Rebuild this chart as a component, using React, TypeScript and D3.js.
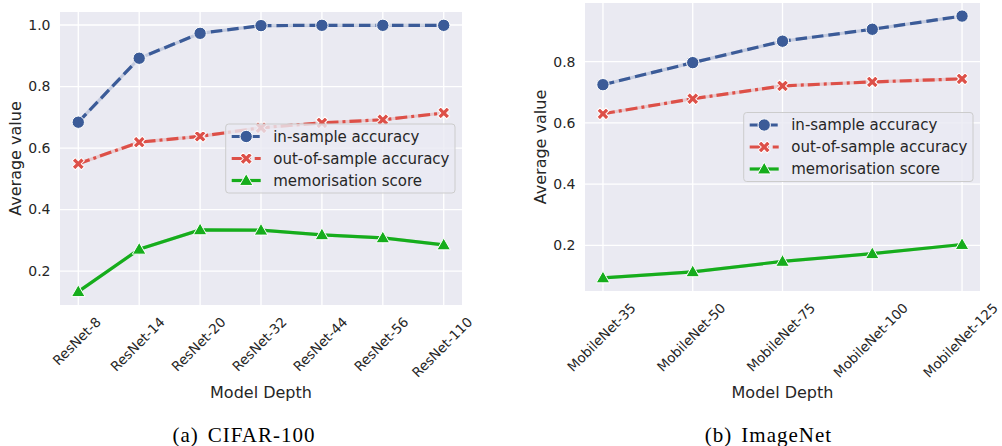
import React, { useRef, useEffect } from 'react';
import * as d3 from 'd3';

// CIFAR-100 panel
const cifarModels = ['ResNet-8', 'ResNet-14', 'ResNet-20', 'ResNet-32', 'ResNet-44', 'ResNet-56', 'ResNet-110'];
const cifarInSample = [0.684, 0.892, 0.973, 0.998, 0.999, 0.999, 0.999];
const cifarOutSample = [0.549, 0.619, 0.638, 0.666, 0.682, 0.692, 0.714];
const cifarMemorisation = [0.133, 0.271, 0.334, 0.333, 0.318, 0.308, 0.285];
const cifarYTicks = [0.2, 0.4, 0.6, 0.8, 1.0];

// ImageNet panel
const imagenetModels = ['MobileNet-35', 'MobileNet-50', 'MobileNet-75', 'MobileNet-100', 'MobileNet-125'];
const imagenetInSample = [0.725, 0.797, 0.867, 0.906, 0.949];
const imagenetOutSample = [0.63, 0.679, 0.721, 0.734, 0.744];
const imagenetMemorisation = [0.094, 0.114, 0.148, 0.173, 0.203];
const imagenetYTicks = [0.2, 0.4, 0.6, 0.8];

const seriesNames = ['in-sample accuracy', 'out-of-sample accuracy', 'memorisation score'];
const seriesColors = ['#3b5b98', '#dd5048', '#16ad1c'];
const seriesDashes = ['11.5,5', '12,4,3,4', null];

const BG = '#eaeaf2';
const TEXT = '#262626';
const FONT = '"DejaVu Sans", sans-serif';
const TICK_FS = 14;
const XTICK_FS = 13.5;
const LEGEND_FS = 15;
const LABEL_FS = 16;

const markerPath = (i: number) => {
  if (i === 0) return d3.symbol(d3.symbolCircle, 120)();
  if (i === 1) return d3.symbol(d3.symbolCross, 90)();
  return d3.symbol(d3.symbolTriangle, 80)();
};

function drawMarker(sel: any, i: number, cx: number, cy: number) {
  sel
    .append('path')
    .attr('d', markerPath(i))
    .attr('transform', `translate(${cx},${cy})${i === 1 ? ' rotate(45)' : i === 2 ? ' translate(0,1)' : ''}`)
    .attr('fill', seriesColors[i])
    .attr('stroke', 'white')
    .attr('stroke-width', 1);
}

function drawPanel(root: any, opts: any) {
  const { box, models, values, yTicks, caption, captionX, yLabelX } = opts;
  const g = root.append('g');

  const x = d3
    .scalePoint()
    .domain(models)
    .range([box.left, box.right])
    .padding(0.05 * (models.length - 1));
  const all = values.flat();
  const [lo, hi] = d3.extent(all) as [number, number];
  const pad = (hi - lo) * 0.05;
  const y = d3.scaleLinear().domain([lo - pad, hi + pad]).range([box.bottom, box.top]);

  g.append('rect')
    .attr('x', box.left)
    .attr('y', box.top)
    .attr('width', box.right - box.left)
    .attr('height', box.bottom - box.top)
    .attr('fill', BG);

  // grid
  g.selectAll('.vg')
    .data(models)
    .enter()
    .append('line')
    .attr('x1', (d) => x(d))
    .attr('x2', (d) => x(d))
    .attr('y1', box.top)
    .attr('y2', box.bottom)
    .attr('stroke', 'white')
    .attr('stroke-width', 1.3);
  g.selectAll('.hg')
    .data(yTicks)
    .enter()
    .append('line')
    .attr('x1', box.left)
    .attr('x2', box.right)
    .attr('y1', (d) => y(d))
    .attr('y2', (d) => y(d))
    .attr('stroke', 'white')
    .attr('stroke-width', 1.3);

  // y tick labels
  g.selectAll('.yt')
    .data(yTicks)
    .enter()
    .append('text')
    .attr('x', box.left - 9.5)
    .attr('y', (d) => y(d))
    .attr('dy', '0.35em')
    .attr('text-anchor', 'end')
    .attr('font-family', FONT)
    .attr('font-size', TICK_FS)
    .attr('fill', TEXT)
    .text((d) => d3.format('.1f')(d));

  // x tick labels, rotated 45 deg, centred on tick
  models.forEach((m: string) => {
    const t = g
      .append('text')
      .attr('text-anchor', 'middle')
      .attr('font-family', FONT)
      .attr('font-size', XTICK_FS)
      .attr('fill', TEXT)
      .text(m);
    const w = (t.node() as SVGTextElement).getComputedTextLength();
    const h = XTICK_FS * 1.164;
    const H = (w + h) / Math.SQRT2;
    const cy = box.bottom + 9 + H / 2;
    t.attr('transform', `translate(${(x(m) as number) - 1.5},${cy}) rotate(-45)`).attr('y', XTICK_FS * 0.346);
  });

  // series
  values.forEach((vals: number[], i: number) => {
    const pts = vals.map((v, j) => [x(models[j]) as number, y(v)] as [number, number]);
    const line = d3.line();
    g.append('path')
      .attr('d', line(pts))
      .attr('fill', 'none')
      .attr('stroke', seriesColors[i])
      .attr('stroke-opacity', 0.22)
      .attr('stroke-width', 3.2);
    const p = g
      .append('path')
      .attr('d', line(pts))
      .attr('fill', 'none')
      .attr('stroke', seriesColors[i])
      .attr('stroke-width', 3.2);
    if (seriesDashes[i]) p.attr('stroke-dasharray', seriesDashes[i]);
    pts.forEach(([px, py]) => drawMarker(g, i, px, py));
  });

  // legend, center right
  const lg = g.append('g');
  const cy = (box.top + box.bottom) / 2;
  let maxW = 0;
  const texts = seriesNames.map((name, i) => {
    const t = lg
      .append('text')
      .attr('y', cy + (i - 1) * 22)
      .attr('dy', '0.35em')
      .attr('font-family', FONT)
      .attr('font-size', LEGEND_FS)
      .attr('fill', TEXT)
      .text(name);
    maxW = Math.max(maxW, (t.node() as SVGTextElement).getComputedTextLength());
    return t;
  });
  const lw = 47.5 + maxW + 5.5;
  const lx = box.right - 7 - lw;
  lg.insert('rect', ':first-child')
    .attr('x', lx)
    .attr('y', cy - 34.5)
    .attr('width', lw)
    .attr('height', 69)
    .attr('rx', 3)
    .attr('fill', BG)
    .attr('fill-opacity', 0.8)
    .attr('stroke', '#cccccc')
    .attr('stroke-width', 1);
  texts.forEach((t) => t.attr('x', lx + 47.5));
  seriesNames.forEach((_, i) => {
    const ry = cy + (i - 1) * 22;
    const l = lg
      .append('line')
      .attr('x1', lx + 6)
      .attr('x2', lx + 35)
      .attr('y1', ry)
      .attr('y2', ry)
      .attr('stroke', seriesColors[i])
      .attr('stroke-width', 3.2);
    if (seriesDashes[i]) l.attr('stroke-dasharray', seriesDashes[i]);
    drawMarker(lg, i, lx + 20.5, ry);
  });

  // axis titles
  g.append('text')
    .attr('x', (box.left + box.right) / 2)
    .attr('y', 398)
    .attr('text-anchor', 'middle')
    .attr('font-family', FONT)
    .attr('font-size', LABEL_FS)
    .attr('fill', TEXT)
    .text('Model Depth');
  g.append('text')
    .attr('transform', `translate(${yLabelX},${cy}) rotate(-90)`)
    .attr('dy', '0.35em')
    .attr('text-anchor', 'middle')
    .attr('font-family', FONT)
    .attr('font-size', LABEL_FS)
    .attr('fill', TEXT)
    .text('Average value');

  // caption
  const c = g
    .append('text')
    .attr('x', captionX)
    .attr('y', 442)
    .attr('text-anchor', 'middle')
    .attr('font-family', '"Liberation Serif", serif')
    .attr('font-size', 21)
    .attr('letter-spacing', 1)
    .attr('fill', 'black');
  c.append('tspan').text(caption[0]);
  c.append('tspan').attr('dx', 9).text(caption[1]);
}

const App = () => {
  const svgRef = useRef<SVGSVGElement>(null);

  useEffect(() => {
    const svg = d3.select(svgRef.current);
    svg.selectAll('*').remove();
    drawPanel(svg, {
      box: { left: 60, right: 462, top: 12, bottom: 305 },
      models: cifarModels,
      values: [cifarInSample, cifarOutSample, cifarMemorisation],
      yTicks: cifarYTicks,
      caption: ['(a)', 'CIFAR-100'],
      captionX: 244,
      yLabelX: 15,
    });
    drawPanel(svg, {
      box: { left: 585, right: 980, top: 3, bottom: 291 },
      models: imagenetModels,
      values: [imagenetInSample, imagenetOutSample, imagenetMemorisation],
      yTicks: imagenetYTicks,
      caption: ['(b)', 'ImageNet'],
      captionX: 768.5,
      yLabelX: 540.7,
    });
  }, []);

  return (
    <svg
      ref={svgRef}
      width={1002}
      height={446}
      style={{ position: 'absolute', left: 0, top: 0, background: 'white' }}
    />
  );
};

export default App;
